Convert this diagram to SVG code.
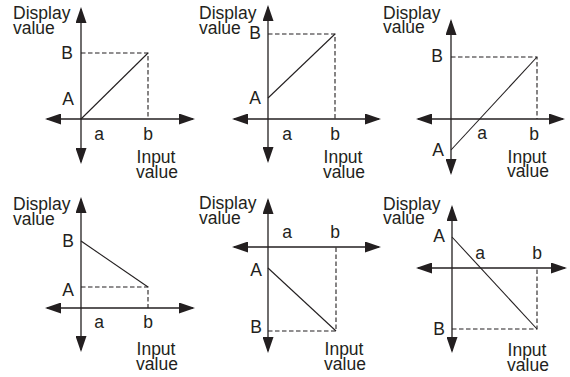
<svg xmlns="http://www.w3.org/2000/svg" width="570" height="377" viewBox="0 0 570 377">
<style>
text{font-family:"Liberation Sans",Arial,sans-serif;font-size:17.5px;fill:#231f20}
.m{text-anchor:middle}
.ax{stroke:#231f20;stroke-width:1.3;fill:none;marker-start:url(#ah);marker-end:url(#ah)}
.ln{stroke:#231f20;stroke-width:1.1;fill:none}
.ds{stroke:#231f20;stroke-width:1.1;fill:none;stroke-dasharray:4.5 2.5}
</style>
<defs>
<marker id="ah" markerUnits="userSpaceOnUse" markerWidth="16" markerHeight="11" refX="14" refY="5.5" orient="auto-start-reverse" viewBox="0 0 16 11">
<path d="M0,0 L16,5.5 L0,11 z" fill="#231f20"/>
</marker>
</defs>
<rect width="570" height="377" fill="#fff"/>

<g id="panel1">
<line class="ax" x1="81" y1="162" x2="81" y2="9"/>
<line class="ax" x1="47" y1="119" x2="193" y2="119"/>
<polyline class="ds" points="81,53 148,53 148,119"/>
<line class="ln" x1="81" y1="119" x2="148" y2="53"/>
<text x="13" y="19">Display</text><text x="13" y="34">value</text>
<text class="m" x="67" y="59">B</text><text class="m" x="68" y="105">A</text>
<text class="m" x="99" y="140">a</text><text class="m" x="148" y="140">b</text>
<text class="m" x="156" y="163">Input</text><text class="m" x="157" y="178">value</text>
</g>

<g id="panel2">
<line class="ax" x1="268" y1="161" x2="268" y2="7"/>
<line class="ax" x1="234" y1="119" x2="379" y2="119"/>
<polyline class="ds" points="268,34 335,34 335,119"/>
<line class="ln" x1="268" y1="98" x2="335" y2="34"/>
<text x="199" y="19">Display</text><text x="199" y="34">value</text>
<text class="m" x="255" y="39">B</text><text class="m" x="255" y="104">A</text>
<text class="m" x="287" y="140">a</text><text class="m" x="335" y="140">b</text>
<text class="m" x="343" y="163">Input</text><text class="m" x="344" y="178">value</text>
</g>

<g id="panel3">
<line class="ax" x1="451" y1="173" x2="451" y2="21"/>
<line class="ax" x1="418" y1="119" x2="563" y2="119"/>
<polyline class="ds" points="451,57 537,57 537,119"/>
<line class="ln" x1="451" y1="150" x2="537" y2="57"/>
<text x="383" y="19">Display</text><text x="383" y="33">value</text>
<text class="m" x="437" y="62">B</text><text class="m" x="438" y="156">A</text>
<text class="m" x="482" y="139">a</text><text class="m" x="534" y="140">b</text>
<text class="m" x="527" y="163">Input</text><text class="m" x="528" y="177">value</text>
</g>

<g id="panel4">
<line class="ax" x1="81" y1="350" x2="81" y2="199"/>
<line class="ax" x1="47" y1="308" x2="193" y2="308"/>
<polyline class="ds" points="81,287 148,287 148,308"/>
<line class="ln" x1="81" y1="241" x2="148" y2="287"/>
<text x="13" y="210">Display</text><text x="13" y="225">value</text>
<text class="m" x="68" y="247">B</text><text class="m" x="68" y="296">A</text>
<text class="m" x="99" y="328">a</text><text class="m" x="148" y="328">b</text>
<text class="m" x="156" y="355">Input</text><text class="m" x="157" y="370">value</text>
</g>

<g id="panel5">
<line class="ax" x1="268" y1="351" x2="268" y2="200"/>
<line class="ax" x1="234" y1="247" x2="379" y2="247"/>
<polyline class="ds" points="268,331 336,331 336,247"/>
<line class="ln" x1="268" y1="268" x2="336" y2="331"/>
<text x="199" y="209">Display</text><text x="199" y="224">value</text>
<text class="m" x="287" y="238">a</text><text class="m" x="335" y="238">b</text>
<text class="m" x="256" y="276">A</text><text class="m" x="256" y="333">B</text>
<text class="m" x="344" y="355">Input</text><text class="m" x="345" y="370">value</text>
</g>

<g id="panel6">
<line class="ax" x1="452" y1="351" x2="452" y2="207"/>
<line class="ax" x1="418" y1="268" x2="565" y2="268"/>
<polyline class="ds" points="452,329 537,329 537,268"/>
<line class="ln" x1="452" y1="237" x2="537" y2="329"/>
<text x="383" y="210">Display</text><text x="383" y="224">value</text>
<text class="m" x="439" y="242">A</text><text class="m" x="480" y="259">a</text>
<text class="m" x="537" y="259">b</text><text class="m" x="439" y="335">B</text>
<text class="m" x="527" y="356">Input</text><text class="m" x="528" y="371">value</text>
</g>
</svg>
